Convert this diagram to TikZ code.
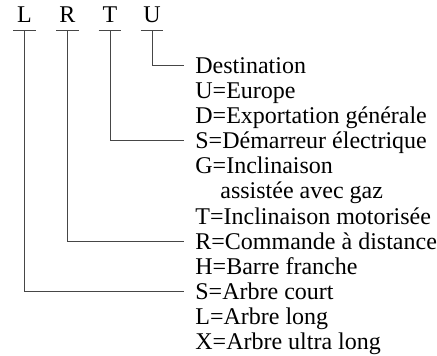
\documentclass[tikz,border=0pt]{standalone}
\usepackage{fontspec}
\setmainfont{Liberation Serif}
\usetikzlibrary{positioning}
\definecolor{codegray}{RGB}{70,70,70}
\tikzstyle{code} = [inner xsep=0pt, inner ysep=3.5pt, minimum width=11pt, text height=7.94pt, text depth=0pt, font=\fontsize{12}{14}\selectfont]
\tikzstyle{item} = [anchor=west, inner xsep=5.5pt, inner ysep=0pt, text height=7.94pt, text depth=0pt, font=\fontsize{12}{14}\selectfont]
\tikzstyle{link} = [line width=0.5pt, color=codegray]

\begin{document}
\begin{tikzpicture}[x=0.5pt, y=-0.5pt]
\useasboundingbox (0,0) rectangle (437,355);

% Code letters
\node[code] (L) at (24.5,15) {L};
\node[code] (R) at (67.5,15) {R};
\node[code] (T) at (110,15) {T};
\node[code] (U) at (152,15) {U};

% Bars under the letters
\draw[link] (L.south west) -- (L.south east);
\draw[link] (R.south west) -- (R.south east);
\draw[link] (T.south west) -- (T.south east);
\draw[link] (U.south west) -- (U.south east);

% Meanings
\node[item] (dest) at (184,65.5) {Destination};
\node[item] (destU) at (184,90.6) {U=Europe};
\node[item] (destD) at (184,115.7) {D=Exportation générale};
\node[item] (startS) at (184,140.8) {S=Démarreur électrique};
\node[item] (tiltG) at (184,165.9) {G=Inclinaison};
\node[item] (tiltGb) at (209,191) {assistée avec gaz};
\node[item] (tiltT) at (184,216.1) {T=Inclinaison motorisée};
\node[item] (ctrlR) at (184,241.2) {R=Commande à distance};
\node[item] (ctrlH) at (184,266.3) {H=Barre franche};
\node[item] (shaftS) at (184,291.4) {S=Arbre court};
\node[item] (shaftL) at (184,316.5) {L=Arbre long};
\node[item] (shaftX) at (184,341.6) {X=Arbre ultra long};

% Connectors
\draw[link] (U.south) |- (dest.west);
\draw[link] (T.south) |- (startS.west);
\draw[link] (R.south) |- (ctrlR.west);
\draw[link] (L.south) |- (shaftS.west);
\end{tikzpicture}
\end{document}
